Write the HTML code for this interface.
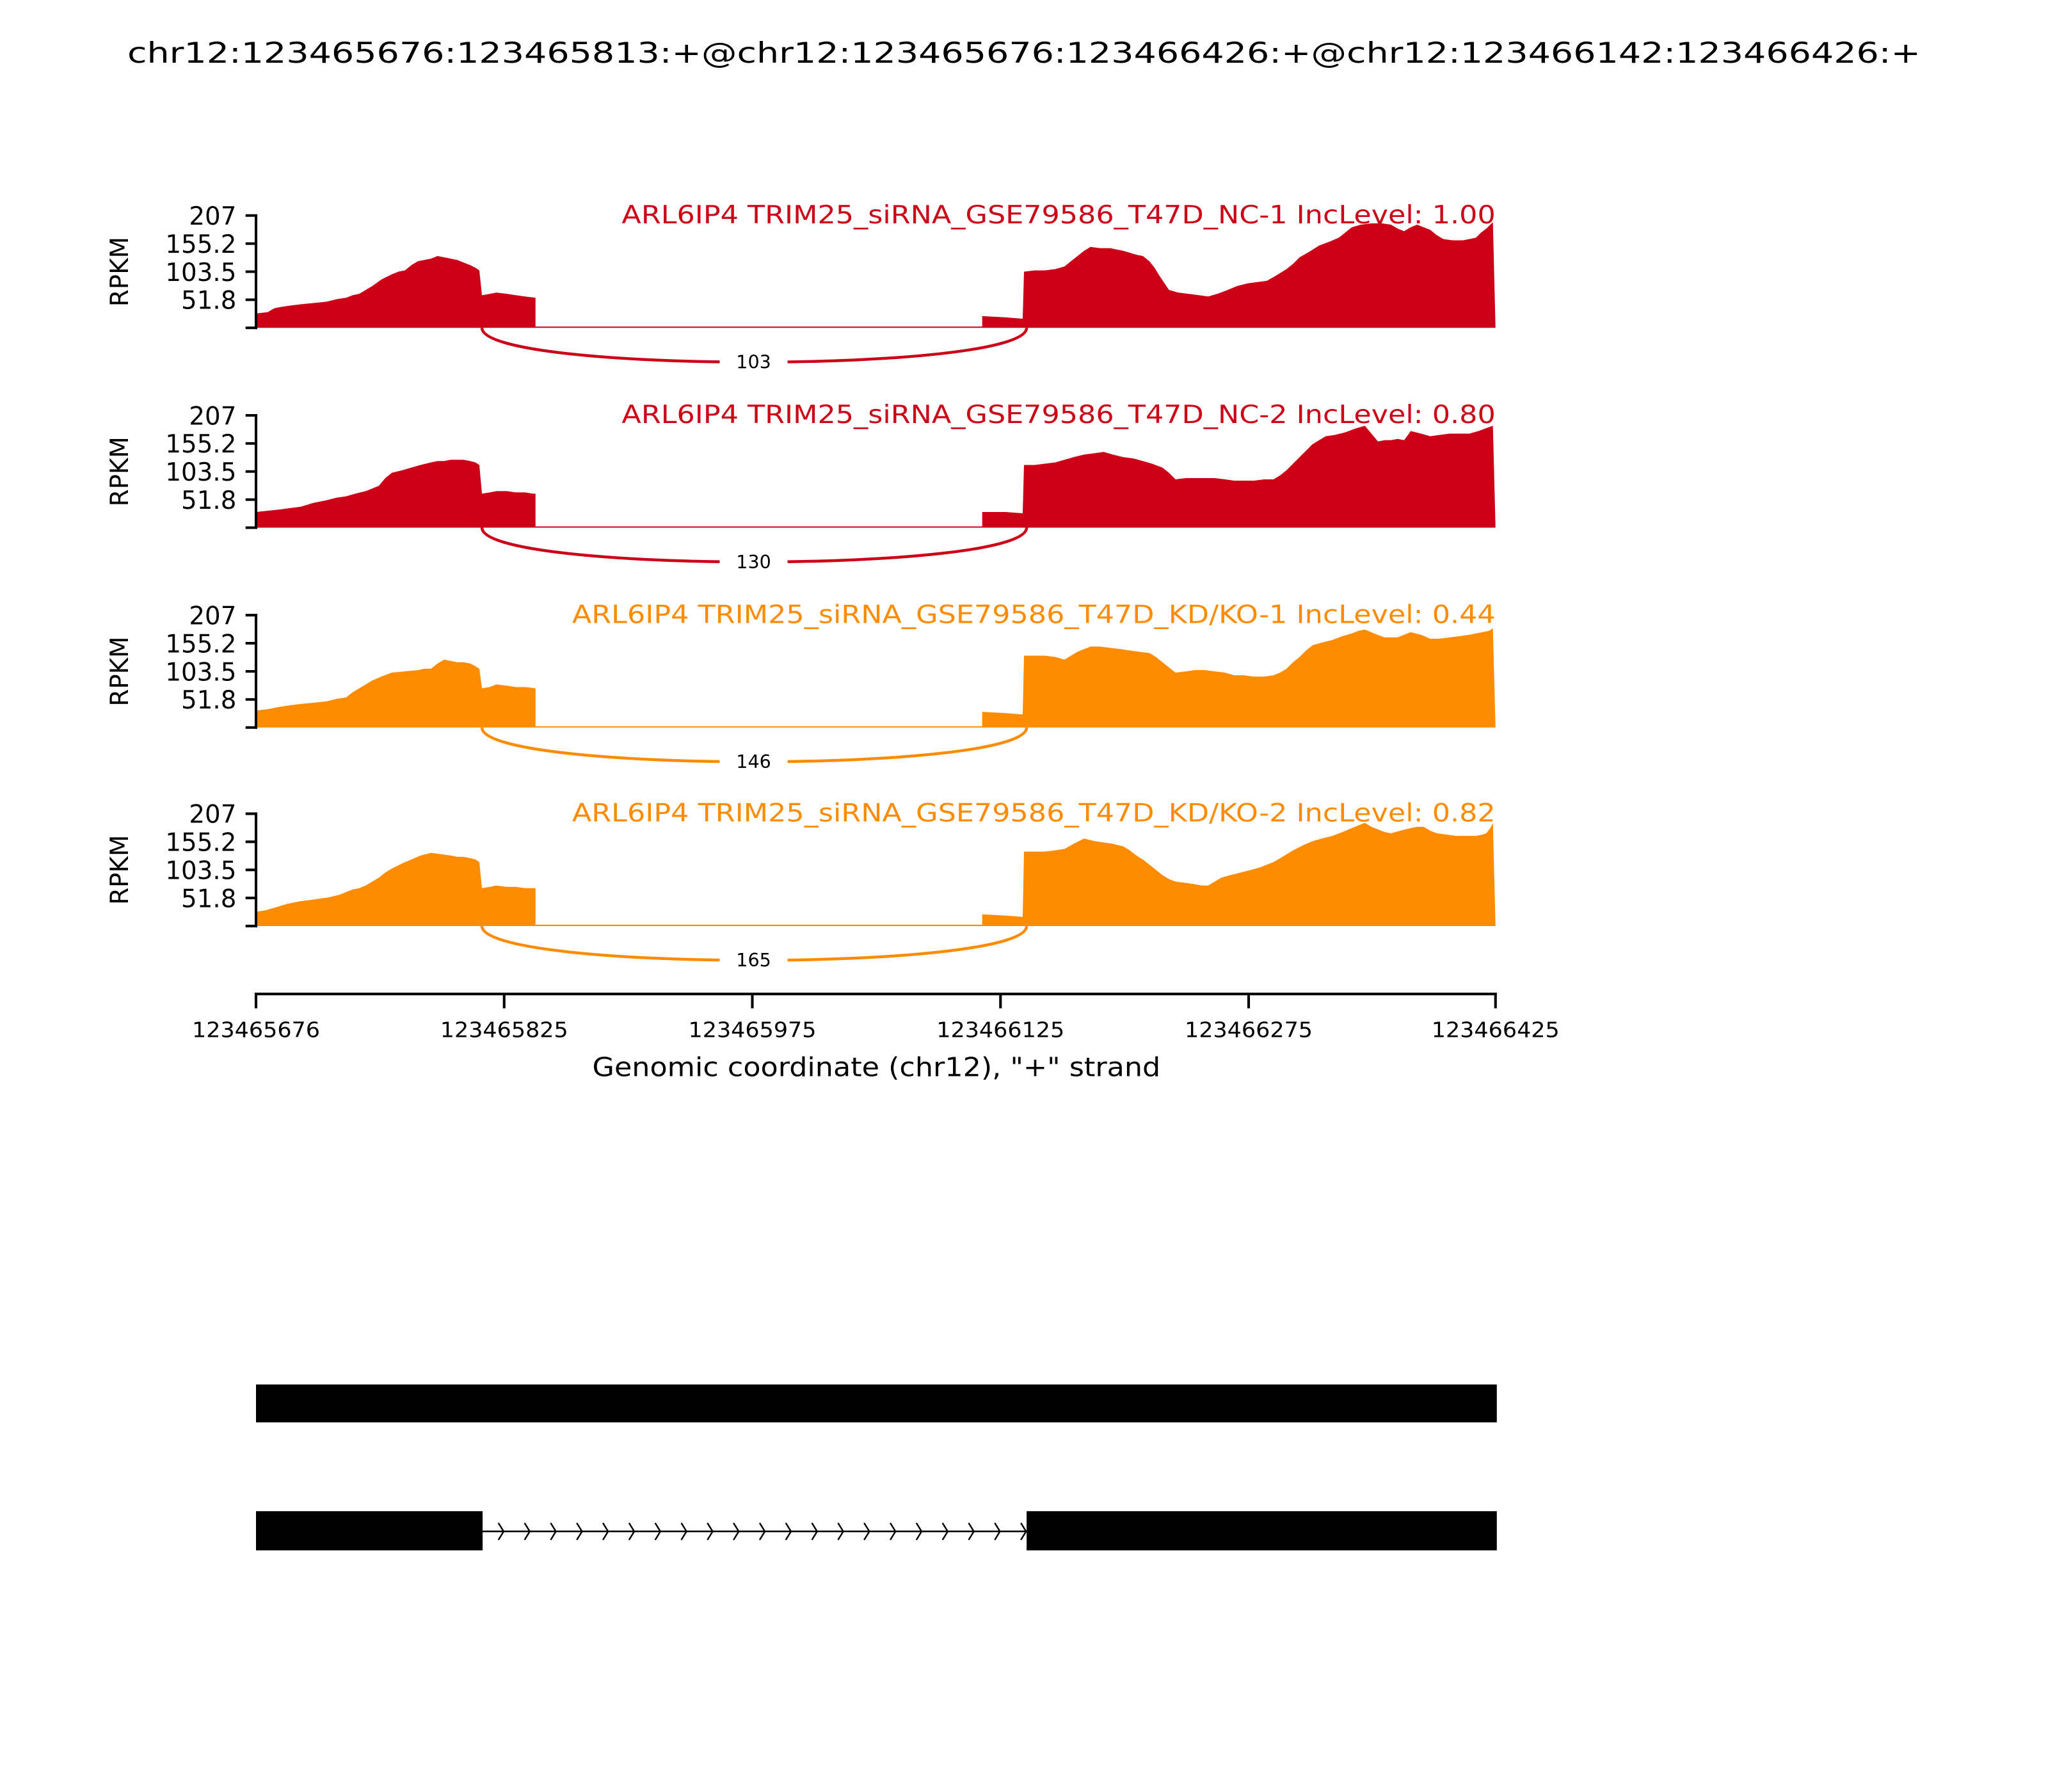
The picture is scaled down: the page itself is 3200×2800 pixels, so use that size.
<!DOCTYPE html>
<html><head><meta charset="utf-8"><style>html,body{margin:0;padding:0;background:#fff}svg{display:block}</style></head>
<body>
<svg xmlns="http://www.w3.org/2000/svg" width="3200" height="2800" viewBox="0 0 1568 1372" font-family="DejaVu Sans, Liberation Sans, sans-serif">
<rect width="1568" height="1372" fill="#fff"/>
<text x="784" y="48" font-size="22" text-anchor="middle" textLength="1373" lengthAdjust="spacingAndGlyphs">chr12:123465676:123465813:+@chr12:123465676:123466426:+@chr12:123466142:123466426:+</text>

<!-- Panel 1 -->
<polygon fill="#cc0016" points="196,251 196,240 205,239 210,236 215,235 222,234 230,233 240,232 250,231 258,229 265,228 270,226 275,225 280,222 285,219 292,214 300,210 305,208 310,207 315,203 320,200 325,199 330,198 335,196 340,197 345,198 350,199 355,201 360,203 364,205 367,207 369,226 375,225 380,224 388,225 395,226 402,227 410,228 410,250 752,250 752,242 770,243 783,244 784,208 792,207 800,207 808,206 815,204 820,200 825,196 830,192 835,189 842,190 850,190 860,192 870,195 875,196 880,200 884,205 887,210 891,216 895,222 902,224 910,225 918,226 925,227 932,225 940,222 947,219 955,217 962,216 970,215 977,211 985,206 990,202 995,197 1002,193 1010,188 1018,185 1025,182 1030,178 1035,174 1042,172 1050,171 1058,171 1065,172 1070,175 1075,177 1080,174 1085,172 1090,174 1095,176 1100,180 1105,183 1112,184 1120,184 1125,183 1130,182 1134,178 1138,175 1141,172 1143,170 1145,251"/>
<line x1="196" y1="165" x2="196" y2="252" stroke="#000" stroke-width="2"/>
<g stroke="#000" stroke-width="2"><line x1="188" y1="165" x2="197" y2="165"/><line x1="188" y1="186.5" x2="197" y2="186.5"/><line x1="188" y1="208" x2="197" y2="208"/><line x1="188" y1="229.5" x2="197" y2="229.5"/><line x1="188" y1="251" x2="197" y2="251"/></g>
<g font-size="19" text-anchor="end"><text x="181" y="172">207</text><text x="181" y="193.5">155.2</text><text x="181" y="215">103.5</text><text x="181" y="236.5">51.8</text></g>
<text font-size="19" text-anchor="middle" transform="translate(98,208) rotate(-90)">RPKM</text>
<text x="1145" y="171" font-size="19" text-anchor="end" fill="#cc0016" textLength="669" lengthAdjust="spacingAndGlyphs">ARL6IP4 TRIM25_siRNA_GSE79586_T47D_NC-1 IncLevel: 1.00</text>
<path d="M369,251 C369,286 786,286 786,251" fill="none" stroke="#cc0016" stroke-width="2.2"/>
<rect x="551" y="268" width="52" height="18" fill="#fff"/>
<text x="577" y="282" font-size="14" text-anchor="middle">103</text>

<!-- Panel 2 -->
<polygon fill="#cc0016" points="196,404 196,392 205,391 215,390 222,389 230,388 240,385 250,383 258,381 265,380 272,378 280,376 285,374 290,372 295,366 300,362 308,360 315,358 322,356 330,354 335,353 340,353 345,352 350,352 355,352 360,353 364,354 367,356 369,378 375,377 380,376 388,376 395,377 402,377 408,378 410,378 410,403 752,403 752,392 770,392 783,393 784,356 792,356 800,355 808,354 815,352 822,350 830,348 838,347 845,346 852,348 860,350 868,351 875,353 882,355 890,358 895,362 900,367 908,366 915,366 922,366 930,366 938,367 945,368 952,368 960,368 968,367 975,367 980,364 985,360 990,355 995,350 1000,345 1005,340 1010,337 1015,334 1022,333 1030,331 1038,328 1045,326 1050,332 1055,338 1060,337 1065,337 1070,336 1075,337 1078,333 1080,330 1088,332 1095,334 1102,333 1110,332 1118,332 1125,332 1132,330 1140,327 1143,326 1145,404"/>
<line x1="196" y1="318" x2="196" y2="405" stroke="#000" stroke-width="2"/>
<g stroke="#000" stroke-width="2"><line x1="188" y1="318" x2="197" y2="318"/><line x1="188" y1="339.5" x2="197" y2="339.5"/><line x1="188" y1="361" x2="197" y2="361"/><line x1="188" y1="382.5" x2="197" y2="382.5"/><line x1="188" y1="404" x2="197" y2="404"/></g>
<g font-size="19" text-anchor="end"><text x="181" y="325">207</text><text x="181" y="346.5">155.2</text><text x="181" y="368">103.5</text><text x="181" y="389.5">51.8</text></g>
<text font-size="19" text-anchor="middle" transform="translate(98,361) rotate(-90)">RPKM</text>
<text x="1145" y="324" font-size="19" text-anchor="end" fill="#cc0016" textLength="669" lengthAdjust="spacingAndGlyphs">ARL6IP4 TRIM25_siRNA_GSE79586_T47D_NC-2 IncLevel: 0.80</text>
<path d="M369,404 C369,439 786,439 786,404" fill="none" stroke="#cc0016" stroke-width="2.2"/>
<rect x="551" y="421" width="52" height="18" fill="#fff"/>
<text x="577" y="435" font-size="14" text-anchor="middle">130</text>

<!-- Panel 3 -->
<polygon fill="#ff8c00" points="196,557 196,544 205,543 215,541 222,540 230,539 240,538 250,537 258,535 265,534 270,530 275,527 280,524 285,521 292,518 300,515 310,514 320,513 325,512 330,512 335,508 340,505 345,506 350,507 355,507 360,508 364,510 367,512 369,527 375,526 380,524 388,525 395,526 402,526 410,527 410,556 752,556 752,545 770,546 783,547 784,502 792,502 800,502 808,503 815,505 820,502 825,499 830,497 835,495 842,495 850,496 858,497 865,498 872,499 880,500 885,503 890,507 895,511 900,515 908,514 915,513 922,513 930,514 938,515 945,517 952,517 960,518 968,518 975,517 980,515 985,512 990,507 995,503 1000,498 1005,494 1012,492 1020,490 1028,487 1035,485 1040,483 1045,482 1052,485 1060,488 1065,488 1070,488 1075,486 1080,484 1088,486 1095,489 1102,489 1110,488 1118,487 1125,486 1130,485 1135,484 1140,483 1143,481 1145,557"/>
<line x1="196" y1="471" x2="196" y2="558" stroke="#000" stroke-width="2"/>
<g stroke="#000" stroke-width="2"><line x1="188" y1="471" x2="197" y2="471"/><line x1="188" y1="492.5" x2="197" y2="492.5"/><line x1="188" y1="514" x2="197" y2="514"/><line x1="188" y1="535.5" x2="197" y2="535.5"/><line x1="188" y1="557" x2="197" y2="557"/></g>
<g font-size="19" text-anchor="end"><text x="181" y="478">207</text><text x="181" y="499.5">155.2</text><text x="181" y="521">103.5</text><text x="181" y="542.5">51.8</text></g>
<text font-size="19" text-anchor="middle" transform="translate(98,514) rotate(-90)">RPKM</text>
<text x="1145" y="477" font-size="19" text-anchor="end" fill="#ff8c00" textLength="707" lengthAdjust="spacingAndGlyphs">ARL6IP4 TRIM25_siRNA_GSE79586_T47D_KD/KO-1 IncLevel: 0.44</text>
<path d="M369,557 C369,592 786,592 786,557" fill="none" stroke="#ff8c00" stroke-width="2.2"/>
<rect x="551" y="574" width="52" height="18" fill="#fff"/>
<text x="577" y="588" font-size="14" text-anchor="middle">146</text>

<!-- Panel 4 -->
<polygon fill="#ff8c00" points="196,709 196,698 203,697 210,695 220,692 230,690 238,689 245,688 252,687 260,685 265,683 270,681 275,680 280,678 285,675 290,672 295,668 300,665 308,661 315,658 322,655 330,653 338,654 345,655 350,656 355,656 360,657 364,658 367,660 369,680 375,679 380,678 388,679 395,679 402,680 408,680 410,680 410,708 752,708 752,700 770,701 783,702 784,652 792,652 800,652 808,651 815,650 822,646 830,642 838,644 845,645 852,646 860,648 865,651 870,655 875,658 880,662 885,666 890,670 895,673 900,675 908,676 915,677 920,678 925,678 930,675 935,672 942,670 950,668 958,666 965,664 970,662 975,660 982,656 990,651 998,647 1005,644 1012,642 1020,640 1028,637 1035,634 1040,632 1045,630 1050,633 1055,635 1060,637 1065,638 1072,636 1080,634 1085,633 1090,633 1095,636 1100,638 1108,639 1115,640 1122,640 1130,640 1135,639 1138,638 1141,634 1143,630 1145,709"/>
<line x1="196" y1="623" x2="196" y2="710" stroke="#000" stroke-width="2"/>
<g stroke="#000" stroke-width="2"><line x1="188" y1="623" x2="197" y2="623"/><line x1="188" y1="644.5" x2="197" y2="644.5"/><line x1="188" y1="666" x2="197" y2="666"/><line x1="188" y1="687.5" x2="197" y2="687.5"/><line x1="188" y1="709" x2="197" y2="709"/></g>
<g font-size="19" text-anchor="end"><text x="181" y="630">207</text><text x="181" y="651.5">155.2</text><text x="181" y="673">103.5</text><text x="181" y="694.5">51.8</text></g>
<text font-size="19" text-anchor="middle" transform="translate(98,666) rotate(-90)">RPKM</text>
<text x="1145" y="629" font-size="19" text-anchor="end" fill="#ff8c00" textLength="707" lengthAdjust="spacingAndGlyphs">ARL6IP4 TRIM25_siRNA_GSE79586_T47D_KD/KO-2 IncLevel: 0.82</text>
<path d="M369,709 C369,744 786,744 786,709" fill="none" stroke="#ff8c00" stroke-width="2.2"/>
<rect x="551" y="726" width="52" height="18" fill="#fff"/>
<text x="577" y="740" font-size="14" text-anchor="middle">165</text>

<!-- x axis -->
<g stroke="#000" stroke-width="2">
<line x1="195" y1="761" x2="1146" y2="761"/>
<line x1="196" y1="760" x2="196" y2="772"/><line x1="386" y1="760" x2="386" y2="772"/><line x1="576" y1="760" x2="576" y2="772"/><line x1="766" y1="760" x2="766" y2="772"/><line x1="956" y1="760" x2="956" y2="772"/><line x1="1145" y1="760" x2="1145" y2="772"/>
</g>
<g font-size="16" text-anchor="middle">
<text x="196" y="794" textLength="98" lengthAdjust="spacingAndGlyphs">123465676</text>
<text x="386" y="794" textLength="98" lengthAdjust="spacingAndGlyphs">123465825</text>
<text x="576" y="794" textLength="98" lengthAdjust="spacingAndGlyphs">123465975</text>
<text x="766" y="794" textLength="98" lengthAdjust="spacingAndGlyphs">123466125</text>
<text x="956" y="794" textLength="98" lengthAdjust="spacingAndGlyphs">123466275</text>
<text x="1145" y="794" textLength="98" lengthAdjust="spacingAndGlyphs">123466425</text>
</g>
<text x="671" y="824" font-size="20" text-anchor="middle" textLength="435" lengthAdjust="spacingAndGlyphs">Genomic coordinate (chr12), "+" strand</text>

<!-- gene model -->
<rect x="196" y="1060" width="950" height="29" fill="#000"/>
<rect x="196" y="1157" width="173.5" height="30" fill="#000"/>
<rect x="786" y="1157" width="360" height="30" fill="#000"/>
<line x1="369" y1="1172.5" x2="786" y2="1172.5" stroke="#000" stroke-width="1.3"/>
<path fill="none" stroke="#000" stroke-width="1.2" d="M381.6,1166L385.6,1172.5L381.6,1179 M401.6,1166L405.6,1172.5L401.6,1179 M421.6,1166L425.6,1172.5L421.6,1179 M441.6,1166L445.6,1172.5L441.6,1179 M461.6,1166L465.6,1172.5L461.6,1179 M481.6,1166L485.6,1172.5L481.6,1179 M501.6,1166L505.6,1172.5L501.6,1179 M521.6,1166L525.6,1172.5L521.6,1179 M541.6,1166L545.6,1172.5L541.6,1179 M561.6,1166L565.6,1172.5L561.6,1179 M581.6,1166L585.6,1172.5L581.6,1179 M601.6,1166L605.6,1172.5L601.6,1179 M621.6,1166L625.6,1172.5L621.6,1179 M641.6,1166L645.6,1172.5L641.6,1179 M661.6,1166L665.6,1172.5L661.6,1179 M681.6,1166L685.6,1172.5L681.6,1179 M701.6,1166L705.6,1172.5L701.6,1179 M721.6,1166L725.6,1172.5L721.6,1179 M741.6,1166L745.6,1172.5L741.6,1179 M761.6,1166L765.6,1172.5L761.6,1179 M781.6,1166L785.6,1172.5L781.6,1179"/>
</svg>
</body></html>
